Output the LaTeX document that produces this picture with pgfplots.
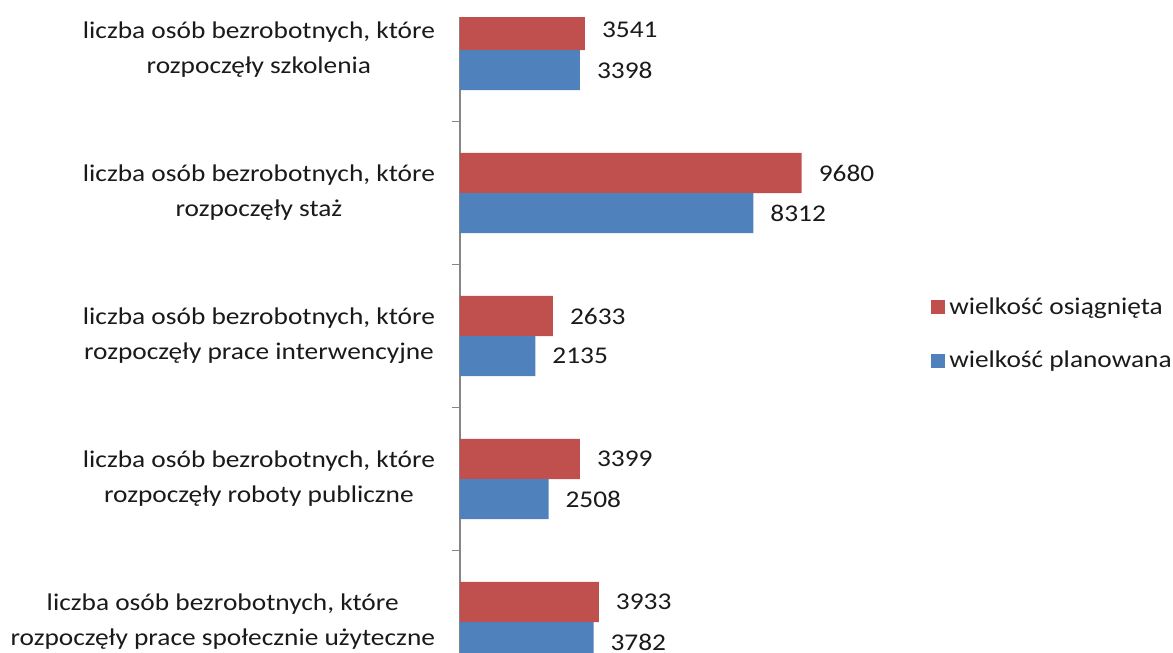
\documentclass[border=0pt]{standalone}
\usepackage{pgfplots}
\pgfplotsset{compat=1.18}
\usepackage{fontspec}
\setmainfont{Carlito}[FakeStretch=1.14]
\definecolor{osiag}{HTML}{C0504D}
\definecolor{plan}{HTML}{4F81BD}
\definecolor{axgray}{HTML}{868686}
\definecolor{txt}{HTML}{1A1A1A}

\begin{document}
\begin{tikzpicture}
  % picture frame: 1 px of the reference = 0.5pt
  \path[use as bounding box] (0,0) rectangle (586.5pt,326.5pt);
  \clip (0,0) rectangle (586.5pt,326.5pt);
  \begin{axis}[
    at={(230pt,318pt)}, anchor=north west,
    scale only axis,
    width=356.5pt, height=338.25pt,
    xbar, bar width=0.28,
    xmin=0, xmax=20198,
    ymin=-0.2308, ymax=4.5,
    y dir=reverse,
    hide x axis,
    axis y line*=left,
    y axis line style={-, draw=axgray, line width=0.8pt},
    ytick={0,1,2,3,4},
    yticklabels={
      {liczba osób bezrobotnych, które\\rozpoczęły szkolenia},
      {liczba osób bezrobotnych, które\\rozpoczęły staż},
      {liczba osób bezrobotnych, które\\rozpoczęły prace interwencyjne},
      {liczba osób bezrobotnych, które\\rozpoczęły roboty publiczne},
      {liczba osób bezrobotnych, które\\rozpoczęły prace społecznie użyteczne}},
    minor ytick={-0.5,0.5,1.5,2.5,3.5,4.5},
    major tick length=0pt,
    minor tick length=4pt,
    tick align=outside,
    every tick/.style={draw=axgray, line width=0.6pt},
    y tick label style={align=center, text=txt,
      font=\fontsize{12}{17.5}\selectfont, xshift=-9pt},
    /pgf/number format/1000 sep={},
    /pgf/number format/assume math mode=true,
    nodes near coords,
    every node near coord/.append style={font=\fontsize{12}{14}\selectfont,
      text=txt, xshift=5pt},
    legend style={at={(0.652,0.531)}, anchor=west, draw=none, fill=none,
      font=\fontsize{12}{14}\selectfont, text=txt, row sep=13pt},
    legend cell align=left,
    legend image code/.code={\fill[#1, draw=none] (0pt,-3.5pt) rectangle (7pt,3.5pt);},
  ]
    \addplot[fill=osiag, draw=none, bar shift=-0.14]
      coordinates {(3541,0) (9680,1) (2633,2) (3399,3) (3933,4)};
    \addplot[fill=plan, draw=none, bar shift=0.14]
      coordinates {(3398,0) (8312,1) (2135,2) (2508,3) (3782,4)};
    \legend{wielkość osiągnięta, wielkość planowana}
  \end{axis}
\end{tikzpicture}
\end{document}
